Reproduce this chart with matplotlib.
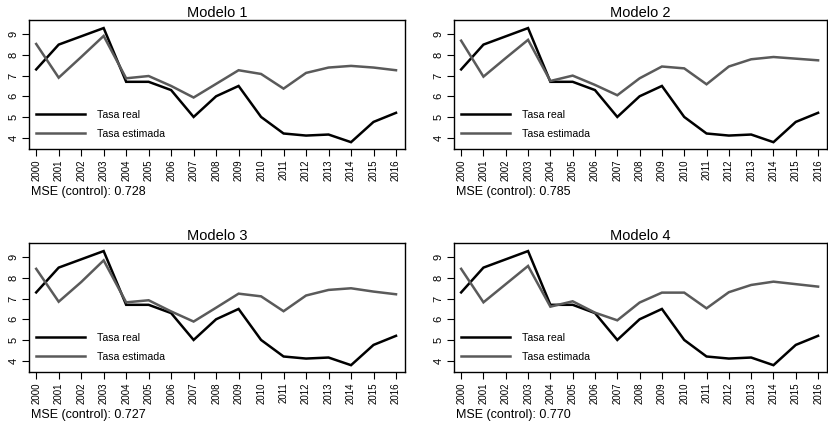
import matplotlib
matplotlib.use("Agg")
import matplotlib.pyplot as plt

plt.rcParams['font.family'] = ['Liberation Sans', 'DejaVu Sans']

years = list(range(2000, 2017))
real = [7.3, 8.5, 8.9, 9.3, 6.7, 6.7, 6.3, 5.0, 6.0, 6.5, 5.0, 4.2, 4.1, 4.15, 3.78, 4.76, 5.2]
est_m1 = [8.53, 6.9, 7.9, 8.92, 6.87, 6.98, 6.5, 5.94, 6.6, 7.26, 7.08, 6.37, 7.13, 7.39, 7.47, 7.39, 7.26]
est_m2 = [8.69, 6.95, 7.85, 8.73, 6.74, 7.0, 6.55, 6.05, 6.87, 7.44, 7.35, 6.58, 7.44, 7.79, 7.9, 7.82, 7.74]
est_m3 = [8.44, 6.85, 7.8, 8.85, 6.82, 6.92, 6.38, 5.89, 6.56, 7.24, 7.11, 6.39, 7.15, 7.42, 7.5, 7.34, 7.21]
est_m4 = [8.44, 6.82, 7.7, 8.58, 6.61, 6.87, 6.32, 5.95, 6.81, 7.29, 7.29, 6.53, 7.31, 7.66, 7.82, 7.7, 7.58]
titles = ["Modelo 1", "Modelo 2", "Modelo 3", "Modelo 4"]
mse = ["0.728", "0.785", "0.727", "0.770"]
estimates = [est_m1, est_m2, est_m3, est_m4]
yticks = [4, 5, 6, 7, 8, 9]

W, H = 829, 424
fig = plt.figure(figsize=(W / 100, H / 100), dpi=100)

# pixel boxes: left, right, top, bottom
boxes = [(29, 405, 20, 149), (454, 827, 20, 149), (29, 405, 243, 372), (454, 827, 243, 372)]

for i, (l, r, t, b) in enumerate(boxes):
    ax = fig.add_axes([l / W, 1 - b / H, (r - l) / W, (b - t) / H])
    ax.plot(years, real, color='black', lw=1.8, label='Tasa real', solid_joinstyle='miter')
    ax.plot(years, estimates[i], color='#5a5a5a', lw=1.8, label='Tasa estimada', solid_joinstyle='miter')
    ax.set_xlim(1999.68, 2016.4)
    ax.set_ylim(3.45, 9.69)
    ax.set_xticks(years)
    ax.set_xticklabels([str(y) for y in years], rotation=90, fontsize=7)
    ax.set_yticks(yticks)
    ax.set_yticklabels([str(v) for v in yticks], rotation=90, fontsize=8, va='center')
    ax.tick_params(direction='out', length=5, width=0.8, pad=2.5)
    for s in ax.spines.values():
        s.set_linewidth(1.0)
    ax.set_title(titles[i], fontsize=10.5, pad=2)
    leg = ax.legend(loc='lower left', frameon=False, fontsize=7.6, handlelength=4.6,
                    handletextpad=1.1, labelspacing=0.85, borderaxespad=0.3,
                    bbox_to_anchor=(0.0, 0.02))
    fig.text(l / W + 2 / W, 1 - (b + 43) / H, f"MSE (control): {mse[i]}",
             fontsize=9, ha='left', va='center')

fig.savefig("out.png", dpi=100, facecolor='white')
